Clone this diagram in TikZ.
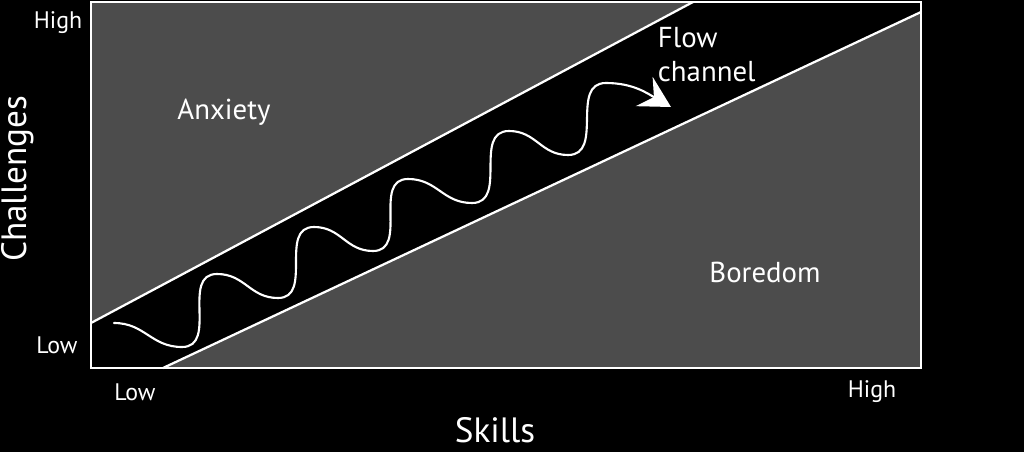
\documentclass[tikz,border=0pt]{standalone}
\usepackage{fontspec}
\setmainfont{PT Sans}
\usetikzlibrary{arrows.meta,positioning}

\begin{document}
\begin{tikzpicture}[
    x=0.025cm, y=0.025cm,
    zone/.style={font=\fontsize{20.5}{24}\selectfont, text=white},
    tick/.style={font=\fontsize{17}{20}\selectfont, text=white},
    axis/.style={font=\fontsize{25}{29}\selectfont, text=white},
    border/.style={draw=white, line width=1.6pt},
    wave/.style={draw=white, line width=1.5pt, -{Stealth[length=22pt, width=24pt, inset=8pt]}},
]

% background
\fill[black] (0,0) rectangle (1024,-452);
\useasboundingbox (0,0) rectangle (1024,-452);

% plot area
\coordinate (sw) at (91,-368);
\coordinate (ne) at (921,-2);
\fill[black!70] (sw) rectangle (ne);

% flow channel
\coordinate (upA) at (91,-323);
\coordinate (upB) at (693,-2);
\coordinate (loA) at (163,-368);
\coordinate (loB) at (921,-12);
\fill[black] (upA) -- (upB) -- (ne) -- (loB) -- (loA) -- (sw) -- cycle;
\draw[border, line cap=round] (upA) -- (upB);
\draw[border, line cap=round] (loA) -- (loB);
\draw[border] (sw) rectangle (ne);

% the wavy path through the channel
\coordinate (wstart) at (114,-323);
\coordinate (wend) at (671,-107);
\draw[wave, line cap=round] (wstart)
    to[out=0,in=180,looseness=1.1] (182,-347) to[out=0,in=180,looseness=1.15] (217,-274)
    to[out=0,in=180,looseness=1.1] (278,-298) to[out=0,in=180,looseness=1.15] (314,-227)
    to[out=0,in=180,looseness=1.1] (373,-251) to[out=0,in=180,looseness=1.15] (408,-179)
    to[out=0,in=180,looseness=1.1] (472,-203) to[out=0,in=180,looseness=1.15] (509,-131)
    to[out=0,in=180,looseness=1.1] (568,-155) to[out=0,in=180,looseness=1.15] (606,-83)
    to[out=0,in=150] (wend);

% region labels
\node[zone] (anxiety) at (224,-112) {Anxiety};
\node[zone] (boredom) at (765,-272) {Boredom};
\node[zone, anchor=west] (flow) at (653,-38) {Flow};
\node[zone, anchor=west] (channel) at (653,-72) {channel};

% ticks
\node[tick] (yhigh) at (58,-23) {High};
\node[tick] (ylow) at (57,-345) {Low};
\node[tick] (xlow) at (135,-392) {Low};
\node[tick] (xhigh) at (872,-392) {High};

% axis titles
\node[axis] (xtitle) at (495,-430) {Skills};
\node[axis, rotate=90] (ytitle) at (18,-179) {Challenges};

\end{tikzpicture}
\end{document}
